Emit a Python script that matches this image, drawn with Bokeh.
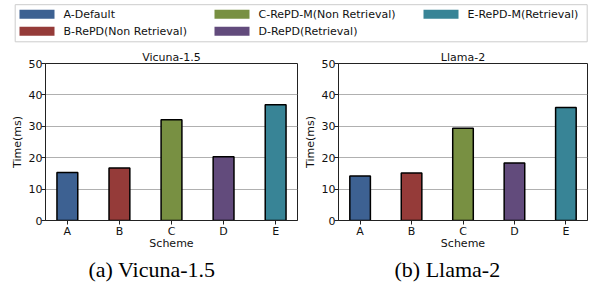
from bokeh.plotting import figure
from bokeh.layouts import column, row
from bokeh.models import Range1d, FixedTicker, Title
from bokeh.core.properties import value
from bokeh.embed import file_html
from bokeh.resources import INLINE

# ---- data ----
schemes = ["A", "B", "C", "D", "E"]
legend_labels = ["A-Default", "B-RePD(Non Retrieval)", "C-RePD-M(Non Retrieval)",
                 "D-RePD(Retrieval)", "E-RePD-M(Retrieval)"]
colors = ["#3d6192", "#953b39", "#789042", "#624b7c", "#388496"]
vicuna_times = [15.3, 16.7, 32.1, 20.3, 36.9]
llama_times = [14.2, 15.1, 29.4, 18.3, 36.0]
panel_titles = ["Vicuna-1.5", "Llama-2"]
captions = ["(a) Vicuna-1.5", "(b) Llama-2"]
y_ticks = [0, 10, 20, 30, 40, 50]

FONT = value("DejaVu Sans")

# ---- legend strip ----
leg = figure(width=598, height=48, x_range=Range1d(0, 598), y_range=Range1d(48, 0),
             output_backend="svg", toolbar_location=None,
             min_border=0, min_border_left=0, min_border_right=0,
             min_border_top=0, min_border_bottom=0)
leg.axis.visible = False
leg.grid.visible = False
leg.outline_line_color = None
leg.quad(left=[14.7], right=[586.7], top=[4.2], bottom=[41.3],
         fill_color="white", line_color="#cccccc", line_width=1)
col_x = [19, 214, 423]
row_y = [13.7, 30.8]
px, py, tx = [], [], []
for i, lab in enumerate(legend_labels):
    c, r = i // 2, i % 2
    px.append(col_x[c] + 17.5)
    py.append(row_y[r])
    tx.append(col_x[c] + 44)
leg.rect(x=px, y=py, width=35, height=9, fill_color=colors, line_color=None)
leg.text(x=tx, y=py, text=legend_labels, text_font=FONT, text_font_size="11px",
         text_baseline="middle", text_align="left", text_color="#111111")


def make_panel(times, title, caption, width, left_border, right_border, cap_offset):
    p = figure(width=width, height=245, x_range=Range1d(-0.42, 4.42),
               y_range=Range1d(0, 50), output_backend="svg", toolbar_location=None,
               min_border_left=left_border, min_border_right=right_border,
               min_border_top=15, min_border_bottom=73, title=title)
    p.title.text_font = "DejaVu Sans"
    p.title.text_font_size = "11px"
    p.title.text_font_style = "normal"
    p.title.align = "center"
    p.title.standoff = 0
    p.title.text_color = "#111111"
    xs = list(range(len(schemes)))
    p.vbar(x=xs, top=times, width=0.4, bottom=0, fill_color=colors,
           line_color="black", line_width=1.5)
    p.xaxis.ticker = FixedTicker(ticks=xs)
    p.xaxis.major_label_overrides = {i: s for i, s in enumerate(schemes)}
    p.yaxis.ticker = FixedTicker(ticks=y_ticks)
    p.xaxis.axis_label = "Scheme"
    p.yaxis.axis_label = "Time(ms)"
    for ax in (p.xaxis, p.yaxis):
        ax.axis_label_text_font = "DejaVu Sans"
        ax.axis_label_text_font_size = "11px"
        ax.axis_label_text_font_style = "normal"
        ax.axis_label_text_color = "#111111"
        ax.major_label_text_font = "DejaVu Sans"
        ax.major_label_text_font_size = "11px"
        ax.major_label_text_color = "#111111"
        ax.major_tick_out = 4
        ax.major_tick_in = 0
        ax.minor_tick_out = 0
        ax.minor_tick_in = 0
        ax.axis_line_color = "#222222"
        ax.major_tick_line_color = "#222222"
    p.xaxis.major_label_standoff = 0
    p.xaxis.axis_label_standoff = -4
    p.yaxis.major_label_standoff = -1
    p.yaxis.axis_label_standoff = 2
    p.xgrid.visible = False
    p.ygrid.grid_line_color = "#b0b0b0"
    p.ygrid.grid_line_width = 1
    p.outline_line_color = "#222222"
    p.outline_line_width = 1
    cap = Title(text=caption, align="left", offset=cap_offset,
                text_font="Liberation Serif", text_font_size="22px",
                text_font_style="normal", text_color="black", standoff=4)
    p.add_layout(cap, "below")
    return p


p1 = make_panel(vicuna_times, panel_titles[0], captions[0], 300, 45, 3, 43)
p2 = make_panel(llama_times, panel_titles[1], captions[1], 298, 36, 11, 56)

layout = column(leg, row(p1, p2))
open("out.html", "w").write(file_html(layout, INLINE))
